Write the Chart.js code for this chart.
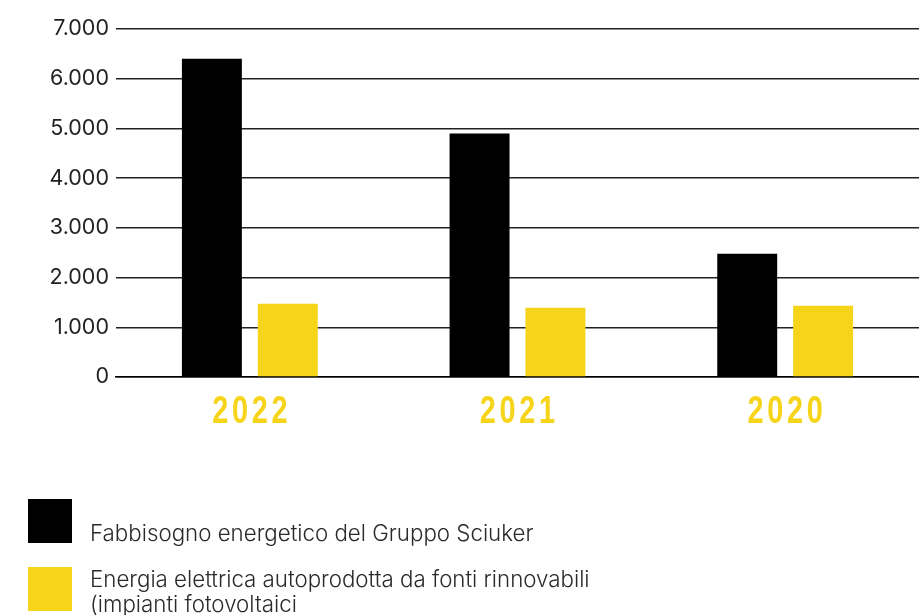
<!DOCTYPE html>
<html>
<head>
<meta charset="utf-8">
<script src="https://cdn.jsdelivr.net/npm/chart.js@4/dist/chart.umd.min.js"></script>
<style>
  html, body { margin: 0; padding: 0; background: #fff; }
  #wrap { position: relative; width: 919px; height: 615px; overflow: hidden; }
  #chartBox { position: absolute; left: 0; top: 0; width: 919px; height: 450px; }
  #legend { position: absolute; left: 0; top: 0; width: 919px; height: 615px; pointer-events: none; }
  .item { position: absolute; left: 28px; }
  .swatch { position: absolute; left: 0; top: 0; width: 44px; height: 44px; }
  .label { position: absolute; left: 62px; font-family: Inter, "Noto Sans", sans-serif; font-weight: 300; font-size: 22.3px; line-height: 25px; color: #2a2a2a; white-space: nowrap; }
</style>
</head>
<body>
<div id="wrap">
  <div id="chartBox"><canvas id="energyChart"></canvas></div>
  <div id="legend"></div>
</div>
<script>
const years = ["2022", "2021", "2020"]
const fabbisogno = [6400, 4900, 2480]
const autoprodotta = [1475, 1395, 1435]
const yTicks = [0, 1000, 2000, 3000, 4000, 5000, 6000, 7000]

const seriesNames = [
    ["Fabbisogno energetico del Gruppo Sciuker"],
    ["Energia elettrica autoprodotta da fonti rinnovabili", "(impianti fotovoltaici"]
]
const seriesColors = ["#000000", "#f5d41a"]

// 7000 -> "7.000"
const fmtThousands = (v) => String(v).replace(/\B(?=(\d{3})+(?!\d))/g, '.')

// year labels are a narrow, spaced-out bold face: draw them squeezed at the x scale's tick positions
const condensedYears = {
    id: 'condensedYears',
    afterDraw(chart) {
        const xs = chart.scales.x
        const c = chart.ctx
        const sx = 0.74
        const spacing = 5
        xs.ticks.forEach((t, i) => {
            const px = xs.getPixelForTick(i)
            c.save()
            c.translate(px, chart.chartArea.bottom + 46)
            c.scale(sx, 1)
            c.font = 'bold 39px "Liberation Sans", Arial, sans-serif'
            c.letterSpacing = spacing + 'px'
            c.fillStyle = seriesColors[1]
            c.textAlign = 'center'
            c.textBaseline = 'alphabetic'
            c.fillText(xs.getLabelForValue(t.value), spacing / 2, 0)
            c.restore()
        })
    }
}

const ctx = document.getElementById("energyChart")

new Chart(ctx, {
    type: 'bar',
    data: {
        labels: years,
        datasets: [
            { label: seriesNames[0].join(' '), data: fabbisogno, backgroundColor: seriesColors[0] },
            { label: seriesNames[1].join(' '), data: autoprodotta, backgroundColor: seriesColors[1] }
        ]
    },
    options: {
        responsive: true,
        maintainAspectRatio: false,
        animation: false,
        layout: { padding: { top: 29, right: 0, left: 0, bottom: 0 } },
        datasets: { bar: { categoryPercentage: 0.567, barPercentage: 0.79 } },
        plugins: { legend: { display: false }, tooltip: { enabled: false } },
        scales: {
            x: {
                grid: { display: false, drawTicks: false },
                border: { display: true, color: '#000', width: 1.5 },
                ticks: { color: 'rgba(0,0,0,0)', font: { size: 30 } },
                afterFit: (scale) => { scale.height = 73 }
            },
            y: {
                min: 0,
                max: 7000,
                afterBuildTicks: (scale) => { scale.ticks = yTicks.map(v => ({ value: v })) },
                grid: { color: '#222', lineWidth: 1.4, drawTicks: false },
                border: { display: false },
                ticks: {
                    color: '#222',
                    padding: 7,
                    font: { family: 'Inter, "Noto Sans", sans-serif', size: 21.5 },
                    callback: (v) => fmtThousands(v)
                },
                afterFit: (scale) => { scale.width = 116 }
            }
        }
    },
    plugins: [condensedYears]
})

// legend drawn as html below the chart (second label runs on two lines)
const legendBox = document.getElementById("legend")
const legendTops = [499, 567]
legendBox.innerHTML = seriesNames.map((lines, i) =>
    `<div class="item" style="top:${legendTops[i]}px">
        <div class="swatch" style="background:${seriesColors[i]}"></div>
        <div class="label" style="top:${i == 0 ? 21 : -1}px">${lines.join('<br>')}</div>
    </div>`
).join('')
</script>
</body>
</html>
